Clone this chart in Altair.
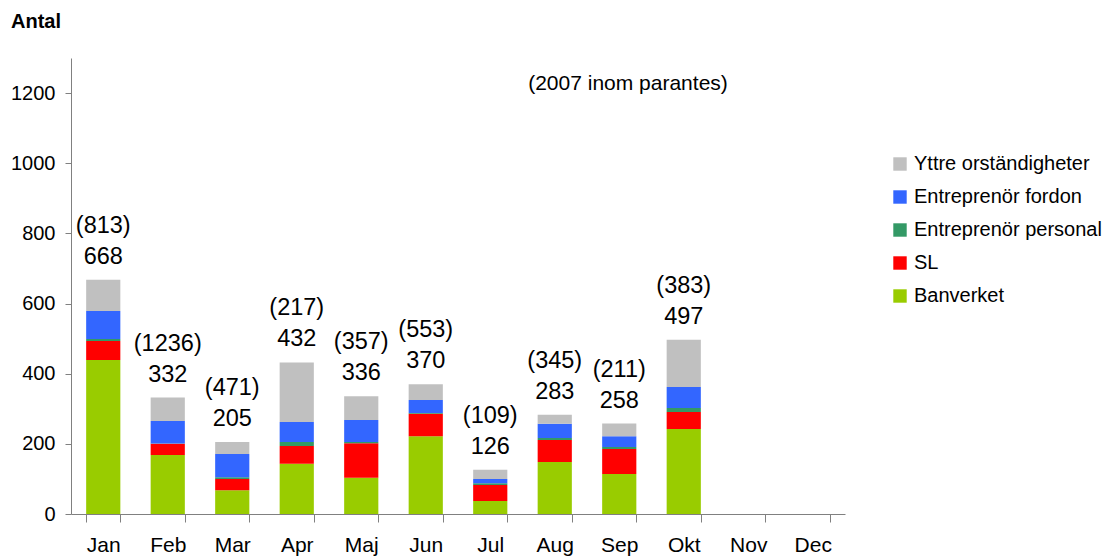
import altair as alt
import pandas as pd

months = ["Jan", "Feb", "Mar", "Apr", "Maj", "Jun", "Jul", "Aug", "Sep", "Okt", "Nov", "Dec"]
series = ["Yttre orständigheter", "Entreprenör fordon", "Entreprenör personal", "SL", "Banverket"]
colors = ["#C0C0C0", "#3366FF", "#339966", "#FF0000", "#99CC00"]

banverket = [439, 168, 68, 143, 103, 222, 37, 148, 114, 242]
sl = [54, 32, 32, 51, 99, 64, 46, 63, 71, 49]
personal = [6, 1, 5, 11, 3, 2, 5, 6, 6, 11]
fordon = [80, 64, 66, 57, 63, 37, 12, 40, 31, 60]
yttre = [89, 67, 34, 170, 68, 45, 26, 26, 36, 135]
totals = [668, 332, 205, 432, 336, 370, 126, 283, 258, 497]
prev2007 = [813, 1236, 471, 217, 357, 553, 109, 345, 211, 383]

FONT = "Liberation Sans"

stack_order = {"Banverket": 0, "SL": 1, "Entreprenör personal": 2,
               "Entreprenör fordon": 3, "Yttre orständigheter": 4}
values_by_series = {"Banverket": banverket, "SL": sl, "Entreprenör personal": personal,
                    "Entreprenör fordon": fordon, "Yttre orständigheter": yttre}
rows = []
for s, vals in values_by_series.items():
    for m, v in zip(months, vals):
        rows.append({"month": m, "series": s, "value": v, "idx": stack_order[s]})
df = pd.DataFrame(rows)

tot = pd.DataFrame({"month": months[:len(totals)], "total": totals,
                    "prev": ["(" + str(p) + ")" for p in prev2007]})

xscale = alt.Scale(domain=months, paddingInner=0.47, paddingOuter=0.235)
yscale = alt.Scale(domain=[0, 1300], nice=False)

x_enc = alt.X("month:N", scale=xscale, sort=months,
              axis=alt.Axis(title=None, labelAngle=0, tickBand="extent", tickSize=8,
                            labelFontSize=21, labelPadding=12, labelFont=FONT,
                            labelColor="black", domainColor="#808080", tickColor="#808080"))

bars = alt.Chart(df).mark_bar().encode(
    x=x_enc,
    y=alt.Y("value:Q", stack="zero", scale=yscale,
            axis=alt.Axis(title=None, values=[0, 200, 400, 600, 800, 1000, 1200], tickSize=6,
                          format="d", labelFontSize=20, labelPadding=10, labelFont=FONT,
                          labelColor="black", domainColor="#808080", tickColor="#808080")),
    color=alt.Color("series:N", scale=alt.Scale(domain=series, range=colors),
                    legend=alt.Legend(title=None, orient="none", legendX=819, legendY=96,
                                      symbolType="square", symbolSize=180, symbolStrokeWidth=0,
                                      labelFontSize=20, labelFont=FONT, labelColor="black",
                                      rowPadding=13, labelOffset=4, labelLimit=300)),
    order=alt.Order("idx:Q", sort="ascending"),
)

num_text = alt.Chart(tot).mark_text(fontSize=23.5, font=FONT, baseline="alphabetic", dy=-16,
                                    color="black").encode(
    x=alt.X("month:N", scale=xscale, sort=months), y=alt.Y("total:Q", scale=yscale),
    text="total:Q")
prev_text = alt.Chart(tot).mark_text(fontSize=23.5, font=FONT, baseline="alphabetic", dy=-47,
                                     color="black").encode(
    x=alt.X("month:N", scale=xscale, sort=months), y=alt.Y("total:Q", scale=yscale),
    text="prev:N")

antal = alt.Chart(pd.DataFrame({"t": ["Antal"]})).mark_text(
    fontSize=20, font=FONT, fontWeight="bold", align="left", baseline="middle", color="black"
).encode(x=alt.value(-60), y=alt.value(-36), text="t:N")

note = alt.Chart(pd.DataFrame({"t": ["(2007 inom parantes)"]})).mark_text(
    fontSize=21, font=FONT, align="center", baseline="middle", color="black"
).encode(x=alt.value(557), y=alt.value(26), text="t:N")

chart = alt.layer(bars, num_text, prev_text, antal, note).properties(
    width=774, height=456,
    autosize=alt.AutoSizeParams(type="none"),
    padding={"left": 63, "top": 50, "right": 261, "bottom": 42},
).configure_view(stroke=None).configure_axis(grid=False)

chart.save("out.html", embed_options={"renderer": "svg", "actions": False})
